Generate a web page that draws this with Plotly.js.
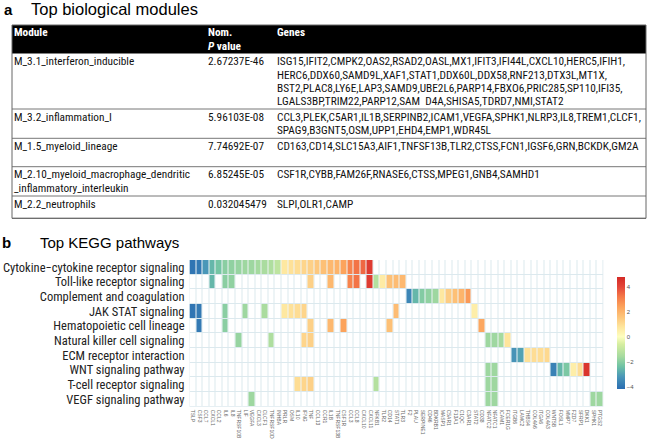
<!DOCTYPE html>
<html><head><meta charset="utf-8">
<script src="https://cdn.plot.ly/plotly-3.0.1.min.js"></script>
<style>html,body{margin:0;padding:0;background:#fff}#chart{width:647px;height:441px}</style>
</head><body><div id="chart"></div>
<script>
// ---------- Panel a: table data ----------
const modules = ["M_3.1_interferon_inducible","M_3.2_inflammation_I","M_1.5_myeloid_lineage",
  "M_2.10_myeloid_macrophage_dendritic<br>_inflammatory_interleukin","M_2.2_neutrophils"];
const pValues = ["2.67237E-46","5.96103E-08","7.74692E-07","6.85245E-05","0.032045479"];
const geneLists = [
  "ISG15,IFIT2,CMPK2,OAS2,RSAD2,OASL,MX1,IFIT3,IFI44L,CXCL10,HERC5,IFIH1,<br>HERC6,DDX60,SAMD9L,XAF1,STAT1,DDX60L,DDX58,RNF213,DTX3L,MT1X,<br>BST2,PLAC8,LY6E,LAP3,SAMD9,UBE2L6,PARP14,FBXO6,PRIC285,SP110,IFI35,<br>LGALS3BP,TRIM22,PARP12,SAM  D4A,SHISA5,TDRD7,NMI,STAT2",
  "CCL3,PLEK,C5AR1,IL1B,SERPINB2,ICAM1,VEGFA,SPHK1,NLRP3,IL8,TREM1,CLCF1,<br>SPAG9,B3GNT5,OSM,UPP1,EHD4,EMP1,WDR45L",
  "CD163,CD14,SLC15A3,AIF1,TNFSF13B,TLR2,CTSS,FCN1,IGSF6,GRN,BCKDK,GM2A",
  "CSF1R,CYBB,FAM26F,RNASE6,CTSS,MPEG1,GNB4,SAMHD1",
  "SLPI,OLR1,CAMP"];
const headers = ["Module","Nom.<br><i>P</i> value","Genes"];

// ---------- Panel b: heatmap data ----------
const pathways = ["Cytokine\u2212cytokine receptor signaling","Toll-like receptor signaling",
  "Complement and coagulation","JAK STAT signaling","Hematopoietic cell lineage",
  "Natural killer cell signaling","ECM receptor interaction","WNT signaling pathway",
  "T-cell receptor signaling","VEGF signaling pathway"];
const genes = ["TSLP","CSF3","CCL7","CXCL1","CCL2","IL6","IL8","TNFRSF10B","LIF","VEGFA",
  "CXCL3","CLCF1","TNFRSF10D","INHBA","PRLR","OSM","IL10","IFNG","TNF","CCL13",
  "CCR1","IL1B","TNFRSF13B","CSF1R","CCL3","CCL8","CXCL10","CXCL11","NFKB1","TLR2",
  "CD14","STAT1","TLR3","F2","PLAU","SERPINE1","CD46","BDKRB1","MASP1","C5AR1",
  "F13A1","C1QC","C3AR1","STAT2","CD38","NFATC2","NFATC1","ICAM1","FCER1G","ITGB6",
  "LAMC2","THBS4","COL4A6","ITGA6","COL4A3","WNT5B","FOSL1","MMP7","FZD7","SFRP1",
  "DKK1","SPHK1","PTGS2"];
const geneValues = [-4.0,-3.9,-3.2,-2.6,-2.3,-2.0,-1.9,-1.8,-1.7,-1.7,
  -1.6,-1.5,-1.4,-1.1,0.7,0.9,1.0,1.2,1.3,1.5,
  1.7,1.9,2.0,2.4,3.0,3.3,3.5,4.3,-1.3,0.6,
  1.7,1.8,1.9,-3.6,-2.6,-2.1,-1.9,-1.7,0.7,1.4,
  1.7,2.0,2.6,0.5,2.3,-1.7,-1.7,-1.6,0.8,-3.3,
  -3.0,0.9,1.0,1.0,1.1,-3.7,-2.6,-2.2,0.5,1.0,
  4.5,-1.7,-1.7];
const pathwayGenes = [
  ["TSLP","CSF3","CCL7","CXCL1","CCL2","IL6","IL8","TNFRSF10B","LIF","VEGFA","CXCL3","CLCF1","TNFRSF10D","INHBA","PRLR","OSM","IL10","IFNG","TNF","CCL13","CCR1","IL1B","TNFRSF13B","CSF1R","CCL3","CCL8","CXCL10","CXCL11"],
  ["CXCL1","IL6","IL8","TNF","IL1B","CCL3","CCL8","CXCL11","NFKB1","TLR2","CD14","STAT1","TLR3"],
  ["F2","PLAU","SERPINE1","CD46","BDKRB1","MASP1","C5AR1","F13A1","C1QC","C3AR1"],
  ["TSLP","CSF3","IL6","LIF","CLCF1","PRLR","OSM","IL10","IFNG","STAT1","STAT2"],
  ["CSF3","IL6","TNF","IL1B","CSF1R","CD14","CD38"],
  ["TNFRSF10B","TNFRSF10D","IFNG","TNF","NFATC2","NFATC1","ICAM1","FCER1G"],
  ["ITGB6","LAMC2","THBS4","COL4A6","ITGA6","COL4A3"],
  ["NFATC2","NFATC1","WNT5B","FOSL1","MMP7","FZD7","SFRP1","DKK1"],
  ["IL10","IFNG","TNF","NFKB1","NFATC2","NFATC1"],
  ["VEGFA","NFATC2","NFATC1","SPHK1","PTGS2"]];
const colorTicks = [-4,-2,0,2,4];

// ---------- build ----------
const W = 647, H = 441;
const px = x => x / W, py = y => 1 - y / H;
const zmin = -4.2, zmax = 4.8;
const stops = [[-4.2,'#2a6db2'],[-3.2,'#4a97b8'],[-2.4,'#6ec2a5'],[-1.6,'#a5da9f'],[-0.6,'#d6eea0'],
  [0,'#fdfebf'],[0.8,'#fee59c'],[1.6,'#fdc47a'],[2.4,'#fca35c'],[3.2,'#f57a48'],[4.0,'#e4473a'],[4.8,'#d42a26']];
const colorscale = stops.map(s => [(s[0]-zmin)/(zmax-zmin), s[1]]);

const z = pathwayGenes.map(set => genes.map((g,i) => set.includes(g) ? geneValues[i] : null));
const zBase = pathways.map(() => genes.map(() => 0));

const NARROW = "'Liberation Sans Narrow', 'Arial Narrow', 'Roboto Condensed', 'Liberation Sans', sans-serif";
const SANS = "'Liberation Sans', Arial, sans-serif";

const traces = [
  {type:'heatmap', x:genes, y:pathways, z:zBase, colorscale:[[0,'#ffffff'],[1,'#ffffff']],
   showscale:false, xgap:1, ygap:1, hoverinfo:'skip'},
  {type:'heatmap', x:genes, y:pathways, z:z, colorscale:colorscale, zmin:zmin, zmax:zmax,
   xgap:1, ygap:1, hoverongaps:false,
   colorbar:{x:px(606.5), xanchor:'left', y:py(333), yanchor:'middle', len:132, lenmode:'pixels',
     thickness:8, thicknessmode:'pixels', outlinewidth:0, tickvals:colorTicks, ticks:'',
     tickfont:{size:6, color:'#555', family:SANS}, ticklabelpad:3}}
];

// table annotations + shapes
const annotations = [];
const shapes = [];
const tblL = 12, tblR = 646, headTop = 25, headBot = 53.5;
const rowTops = [53.5, 109, 138.3, 166.7, 196, 218.3];
const colX = [13, 207, 276];
const LS = 13.35, FS = 11.3;
function addText(text, x, yFirst, color, size, fam, bold){
  text.split('<br>').forEach((line, k) => {
    annotations.push({xref:'paper', yref:'paper', x:px(x), y:py(yFirst + k*LS),
      xanchor:'left', yanchor:'middle', align:'left', showarrow:false,
      text: bold ? '<b>'+line+'</b>' : line,
      font:{size:size, color:color, family:fam}, borderpad:0});
  });
}
shapes.push({type:'rect', xref:'paper', yref:'paper', x0:px(tblL), x1:px(tblR), y0:py(headTop), y1:py(headBot),
  fillcolor:'#000', line:{width:0}});
headers.forEach((h,i) => addText(h, colX[i], 32.8, '#fff', FS, NARROW, true));
modules.forEach((m,i) => {
  const yc = rowTops[i] + 8.2;
  addText(m, colX[0], yc, '#111', FS, NARROW, false);
  addText(pValues[i], colX[1], yc, '#111', FS, NARROW, false);
  addText(geneLists[i], colX[2], yc, '#111', FS, NARROW, false);
  shapes.push({type:'line', xref:'paper', yref:'paper', x0:px(tblL), x1:px(tblR),
    y0:py(rowTops[i+1]), y1:py(rowTops[i+1]), line:{color:'#777', width:1}});
});
shapes.push({type:'rect', xref:'paper', yref:'paper', x0:px(tblL), x1:px(tblR), y0:py(headTop), y1:py(rowTops[5]),
  line:{color:'#666', width:1}, fillcolor:'rgba(0,0,0,0)'});

// panel labels
annotations.push({xref:'paper', yref:'paper', x:px(2), y:py(9), xanchor:'left', yanchor:'middle', showarrow:false,
  text:'<b>a</b>', font:{size:15, family:SANS, color:'#000'}});
annotations.push({xref:'paper', yref:'paper', x:px(29), y:py(9.5), xanchor:'left', yanchor:'middle', showarrow:false,
  text:'Top biological modules', font:{size:16.5, family:SANS, color:'#000'}});
annotations.push({xref:'paper', yref:'paper', x:px(0), y:py(243), xanchor:'left', yanchor:'middle', showarrow:false,
  text:'<b>b</b>', font:{size:15, family:SANS, color:'#000'}});
annotations.push({xref:'paper', yref:'paper', x:px(38), y:py(243), xanchor:'left', yanchor:'middle', showarrow:false,
  text:'Top KEGG pathways', font:{size:15, family:SANS, color:'#000'}});

const layout = {
  width:W, height:H, margin:{l:0,r:0,t:0,b:0}, paper_bgcolor:'#fff', plot_bgcolor:'#dce9ee',
  showlegend:false,
  xaxis:{domain:[px(189.5), px(603.3)], anchor:'y', type:'category', tickangle:90, showgrid:false,
    tickmode:'array', tickvals:genes, ticktext:genes,
    zeroline:false, showline:false, ticks:'', tickfont:{size:5, color:'#666', family:SANS}, ticklabelstandoff:2},
  yaxis:{domain:[py(406.7), py(260)], anchor:'x', type:'category', autorange:'reversed', showgrid:false,
    tickmode:'array', tickvals:pathways, ticktext:pathways,
    zeroline:false, showline:false, ticks:'', tickfont:{size:12.5, color:'#222', family:NARROW}, ticklabelstandoff:4},
  annotations:annotations, shapes:shapes
};
Plotly.newPlot('chart', traces, layout, {displayModeBar:false, staticPlot:true});
</script></body></html>
